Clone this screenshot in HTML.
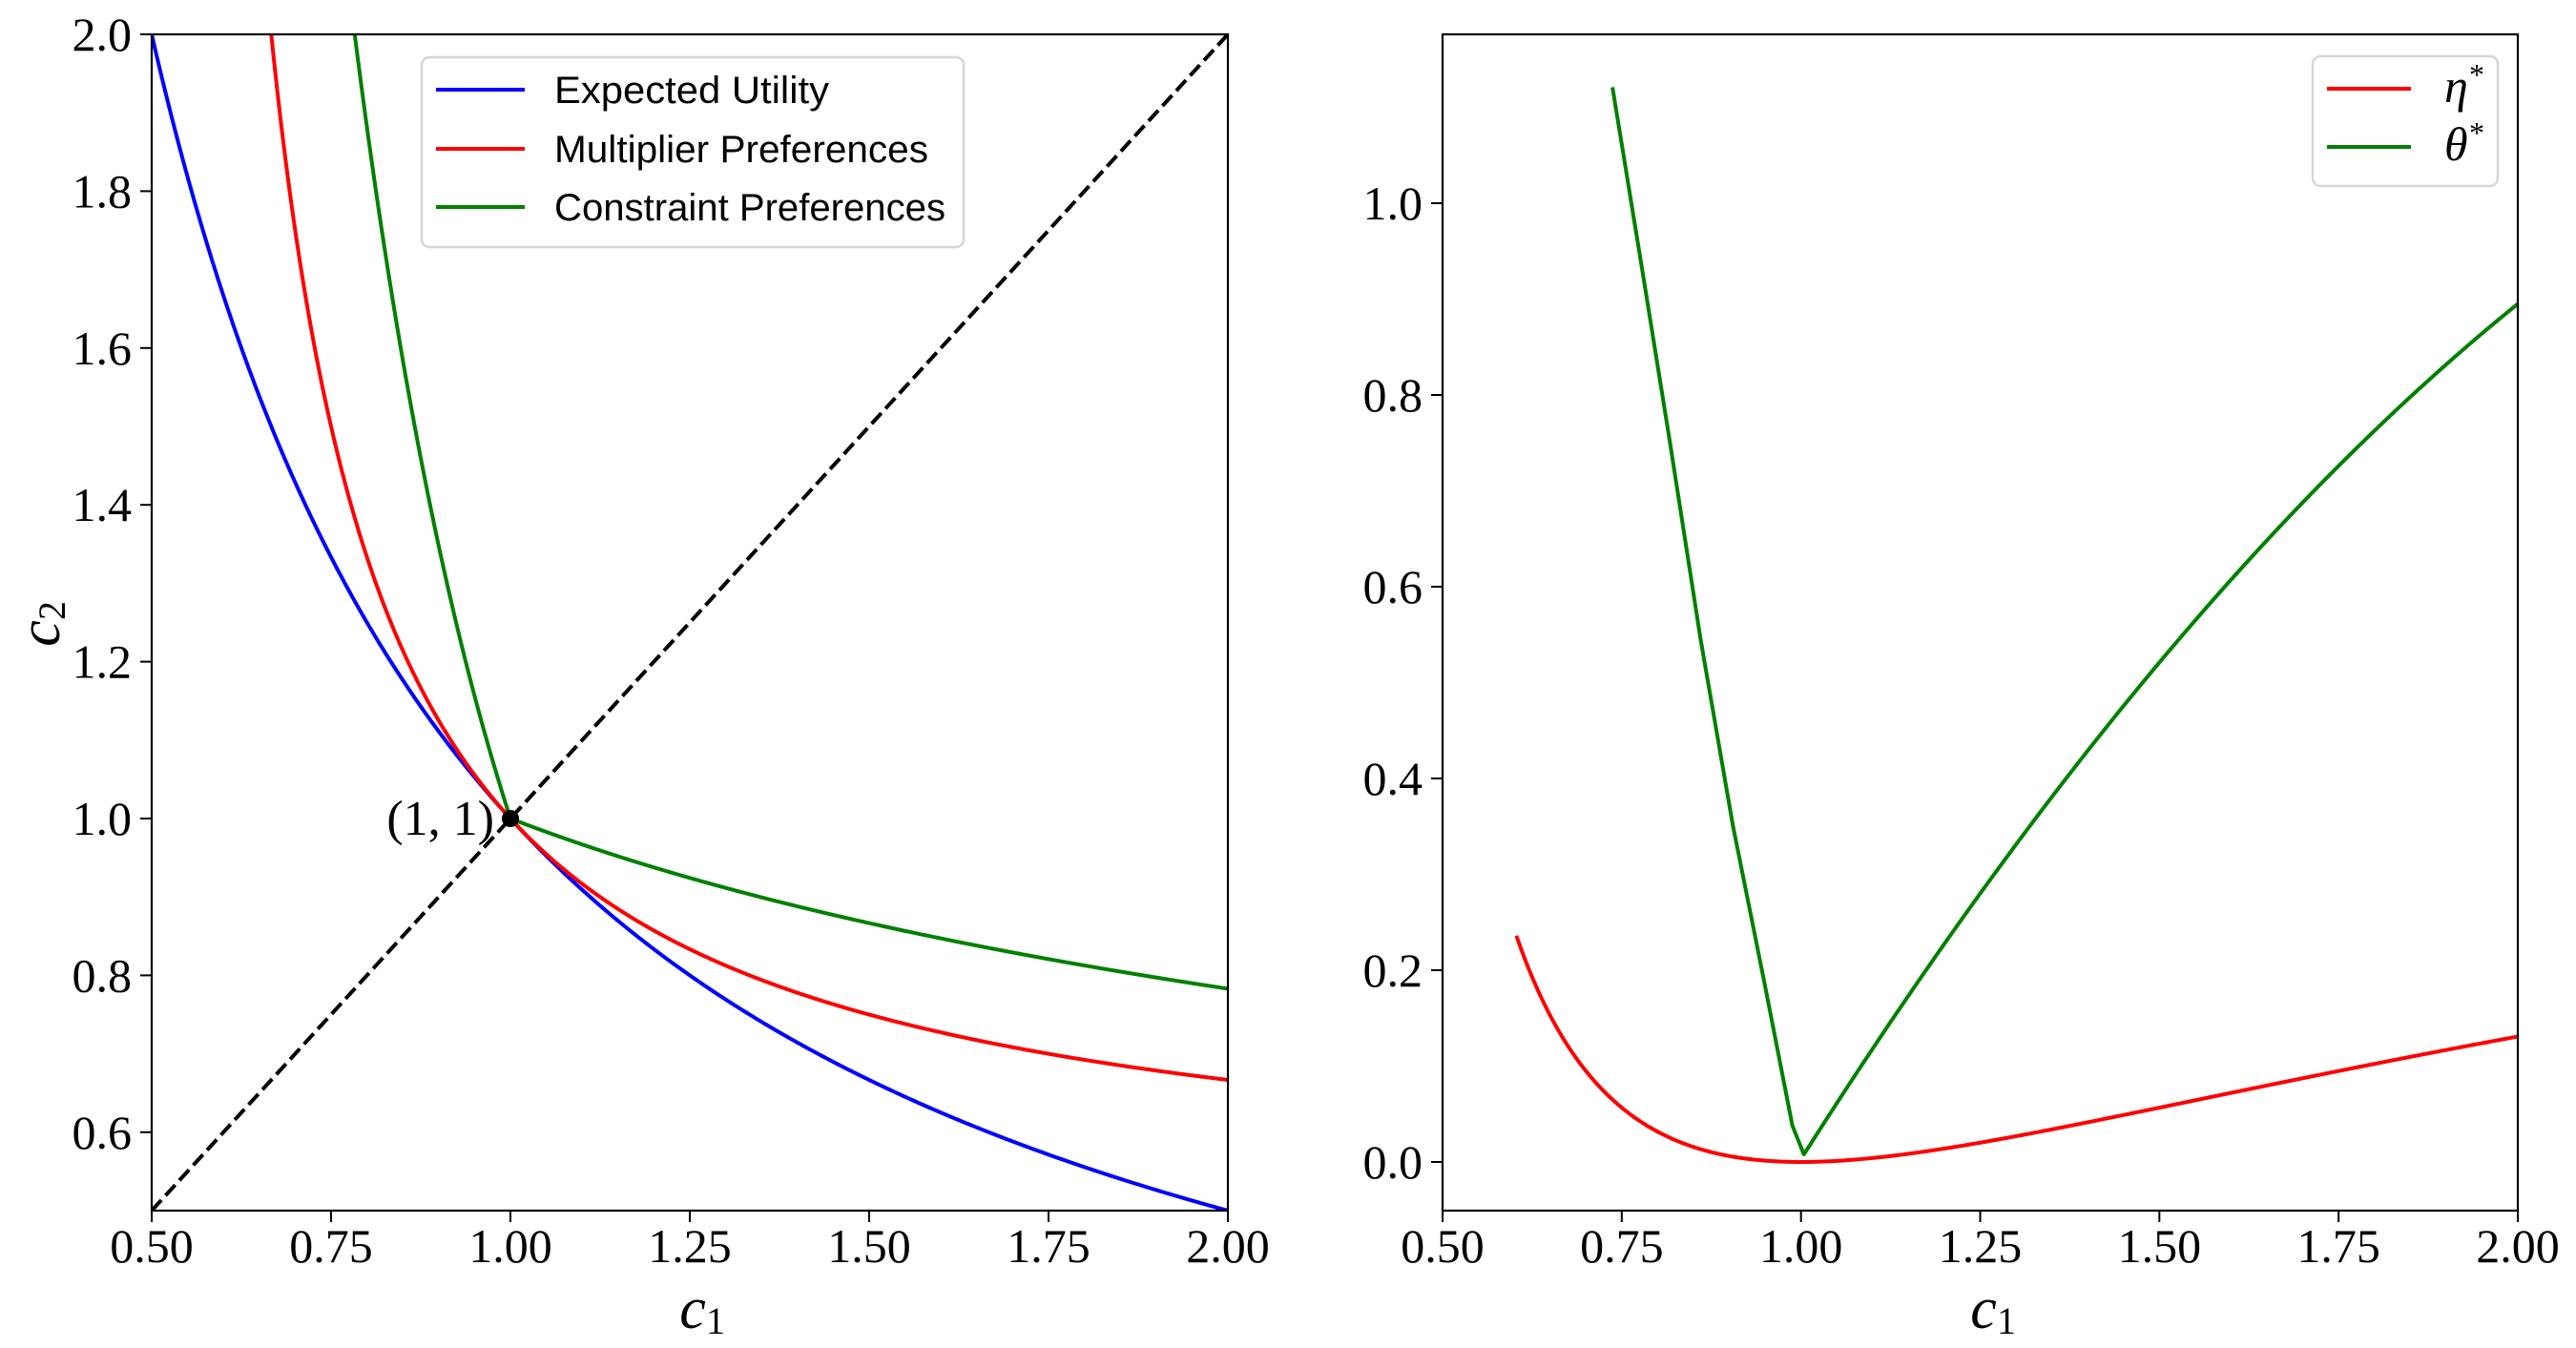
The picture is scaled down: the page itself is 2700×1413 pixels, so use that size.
<!DOCTYPE html>
<html><head><meta charset="utf-8"><style>
html,body{margin:0;padding:0;background:#fff;}
svg{display:block;}
text{font-family:"Liberation Serif",serif;fill:#000;}
.t{font-size:50px;}
.lg{font-family:"Liberation Sans",sans-serif;font-size:40px;}
</style></head><body>
<svg id="s" width="2700" height="1413" viewBox="0 0 2700 1413" xmlns="http://www.w3.org/2000/svg">
</svg>
<script>
const NS="http://www.w3.org/2000/svg";
function el(p,tag,attrs,txt){const e=document.createElementNS(NS,tag);for(const k in attrs)e.setAttribute(k,attrs[k]);if(txt!==undefined)e.textContent=txt;p.appendChild(e);return e;}
const svg=document.getElementById('s');
const L={x0:159,x1:1287,y0:36,y1:1269};
const lx=c=>L.x0+(c-0.5)/1.5*(L.x1-L.x0);
const ly=v=>L.y1-(v-0.5)/1.5*(L.y1-L.y0);
function path(fn,a,b,n,X,Y){let d="";for(let i=0;i<=n;i++){const c=a+(b-a)*i/n;const v=fn(c);d+=(i?"L":"M")+X(c).toFixed(2)+","+Y(v).toFixed(2);}return d;}
const g=svg;
const clipL=el(g,'clipPath',{id:'cl'});el(clipL,'rect',{x:L.x0,y:L.y0,width:L.x1-L.x0,height:L.y1-L.y0});
const gl=el(g,'g',{'clip-path':'url(#cl)',fill:'none','stroke-width':4,'stroke-linejoin':'round'});
el(gl,'path',{d:"M"+lx(0.5)+","+ly(0.5)+"L"+lx(2)+","+ly(2),stroke:'#000','stroke-dasharray':'15,6.5'});
el(gl,'path',{d:path(c=>1/c,0.5,2,400,lx,ly),stroke:'#0000ff'});
el(gl,'path',{d:path(c=>c/(2*c-1),0.64,2,600,lx,ly),stroke:'#ff0000'});
const b=0.353;
el(gl,'path',{d:path(c=>c<1?Math.pow(c,-1/b):Math.pow(c,-b),0.77,2,800,lx,ly),stroke:'#008000'});
el(g,'circle',{cx:lx(1),cy:ly(1),r:9,fill:'#000'});
el(g,'text',{x:518,y:875,'text-anchor':'end','font-size':52},"(1, 1)");
el(g,'rect',{x:L.x0,y:L.y0,width:L.x1-L.x0,height:L.y1-L.y0,fill:'none',stroke:'#000','stroke-width':2.2});
[0.5,0.75,1,1.25,1.5,1.75,2].forEach(c=>{const x=lx(c);el(g,'line',{x1:x,x2:x,y1:L.y1,y2:L.y1+12,stroke:'#000','stroke-width':2});el(g,'text',{x:x,y:1323,'text-anchor':'middle',class:'t'},c.toFixed(2));});
[0.6,0.8,1.0,1.2,1.4,1.6,1.8,2.0].forEach(v=>{const y=ly(v);el(g,'line',{x1:L.x0-12,x2:L.x0,y1:y,y2:y,stroke:'#000','stroke-width':2});el(g,'text',{x:138,y:y+17,'text-anchor':'end',class:'t'},v.toFixed(1));});
el(g,'text',{x:726,y:1392,'text-anchor':'middle','font-size':62,'font-style':'italic'},"c");
el(g,'text',{x:740,y:1398,'font-size':40},"1");
const yl=el(g,'g',{transform:'translate(62,656) rotate(-90)'});
el(yl,'text',{x:-8,y:0,'text-anchor':'middle','font-size':62,'font-style':'italic'},"c");
el(yl,'text',{x:6,y:6,'font-size':40},"2");
el(g,'rect',{x:442,y:60,width:568,height:199,rx:8,fill:'#fff','fill-opacity':0.8,stroke:'#d6d6d6','stroke-width':2.5});
[["#0000ff","Expected Utility",94],["#ff0000","Multiplier Preferences",156],["#008000","Constraint Preferences",217]].forEach(([c,t,y])=>{el(g,'line',{x1:457,x2:550,y1:y,y2:y,stroke:c,'stroke-width':4});el(g,'text',{x:581,y:y+14,class:'lg',textLength:t.length>16?(t[0]=='M'?392:410):288,lengthAdjust:'spacingAndGlyphs'},t);});
const R={x0:1512,x1:2639,y0:36,y1:1269};
const rx=c=>R.x0+(c-0.5)/1.5*(R.x1-R.x0);
const ry=v=>1218-1005*v;
const gr=el(g,'g',{fill:'none','stroke-width':4,'stroke-linejoin':'round'});
el(gr,'path',{d:path(c=>{const m1=1/c,m2=2-1/c;return 0.5*(m1*Math.log(m1)+m2*Math.log(m2));},0.603,2,500,rx,ry),stroke:'#ff0000'});
const left=[[0.737,1.121],[0.7765,0.94],[0.8165,0.754],[0.860,0.545],[0.905,0.351],[0.949,0.187],[0.988,0.038],[1.004,0.008]];
const right=[];for(let i=1;i<=200;i++){const x=0.004+(1-0.004)*i/200;right.push([1+x,0.003+1.18*x-0.288*x*x]);}
const all=left.concat(right);
el(gr,'path',{d:all.map((p,i)=>(i?"L":"M")+rx(p[0]).toFixed(2)+","+ry(p[1]).toFixed(2)).join(""),stroke:'#008000'});
el(g,'rect',{x:R.x0,y:R.y0,width:R.x1-R.x0,height:R.y1-R.y0,fill:'none',stroke:'#000','stroke-width':2.2});
[0.5,0.75,1,1.25,1.5,1.75,2].forEach(c=>{const x=rx(c);el(g,'line',{x1:x,x2:x,y1:R.y1,y2:R.y1+12,stroke:'#000','stroke-width':2});el(g,'text',{x:x,y:1323,'text-anchor':'middle',class:'t'},c.toFixed(2));});
[0,0.2,0.4,0.6,0.8,1.0].forEach(v=>{const y=ry(v);el(g,'line',{x1:R.x0-12,x2:R.x0,y1:y,y2:y,stroke:'#000','stroke-width':2});el(g,'text',{x:1491,y:y+17,'text-anchor':'end',class:'t'},v.toFixed(1));});
el(g,'text',{x:2079,y:1392,'text-anchor':'middle','font-size':62,'font-style':'italic'},"c");
el(g,'text',{x:2093,y:1398,'font-size':40},"1");
el(g,'rect',{x:2424,y:59,width:194,height:136,rx:8,fill:'#fff','fill-opacity':0.8,stroke:'#d6d6d6','stroke-width':2.5});
[["#ff0000","η",93],["#008000","θ",154]].forEach(([c,t,y])=>{el(g,'line',{x1:2439,x2:2527,y1:y,y2:y,stroke:c,'stroke-width':4});el(g,'text',{x:2562,y:y+14,'font-size':50,'font-style':'italic'},t);el(g,'text',{x:2588,y:y-4,'font-size':32},"*");});
</script>
</body></html>
